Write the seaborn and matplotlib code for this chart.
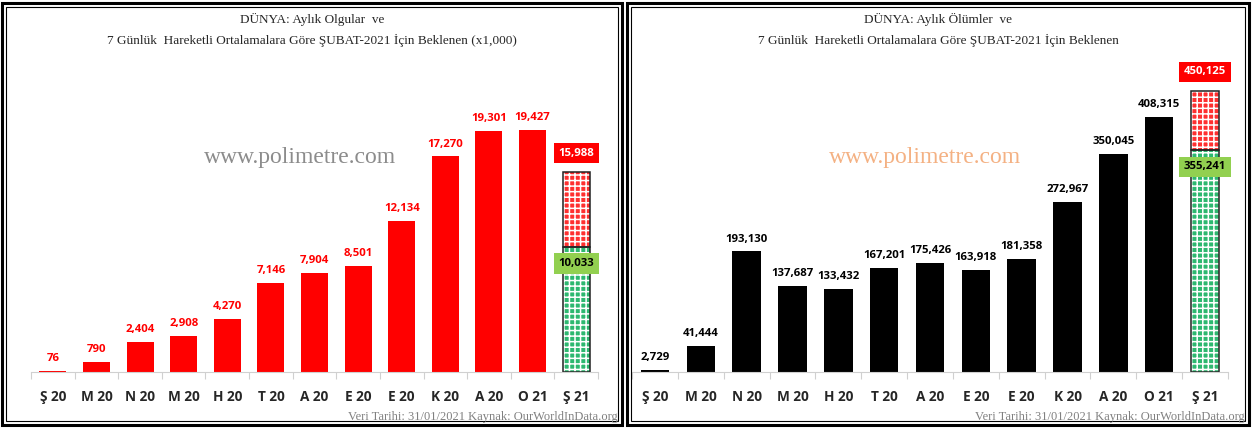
import numpy as np
import pandas as pd
import matplotlib
matplotlib.use("Agg")
import matplotlib.pyplot as plt
from matplotlib.patches import Rectangle
from matplotlib.ticker import FixedLocator
import seaborn as sns

sns.set_style("white")
plt.rcParams['font.family'] = ['DejaVu Sans']
plt.rcParams['hatch.linewidth'] = 1.1

# data
months = ["Ş 20", "M 20", "N 20", "M 20", "H 20", "T 20", "A 20",
          "E 20", "E 20", "K 20", "A 20", "O 21", "Ş 21"]
cases = [76, 790, 2404, 2908, 4270, 7146, 7904, 8501, 12134, 17270, 19301, 19427]
cases_feb_now = 10033
cases_feb_expected = 15988
deaths = [2729, 41444, 193130, 137687, 133432, 167201, 175426, 163918,
          181358, 272967, 350045, 408315]
deaths_feb_now = 355241
deaths_feb_expected = 450125

titles = ["DÜNYA: Aylık Olgular  ve\n7 Günlük  Hareketli Ortalamalara Göre ŞUBAT-2021 İçin Beklenen (x1,000)",
          "DÜNYA: Aylık Ölümler  ve\n7 Günlük  Hareketli Ortalamalara Göre ŞUBAT-2021 İçin Beklenen"]
source = "Veri Tarihi: 31/01/2021 Kaynak: OurWorldInData.org"

W, H = 1252, 428
fig = plt.figure(figsize=(W / 100, H / 100), dpi=100)


def fx(px): return px / W
def fy(py): return 1 - py / H


def frame(x0, x1):
    fig.add_artist(Rectangle((fx(x0), fy(H - 3)), fx(x1 - x0), (H - 6) / H,
                             transform=fig.transFigure, fill=False, lw=2.2, ec='black'))
    fig.add_artist(Rectangle((fx(x0 + 4), fy(H - 7)), fx(x1 - x0 - 8), (H - 14) / H,
                             transform=fig.transFigure, fill=False, lw=0.8, ec='black'))


def panel(ax_rect, vals, now, expected, ymax, bar_color, lab_color, title, wm_color, x0, x1):
    ax = fig.add_axes(ax_rect)
    df = pd.DataFrame({"pos": [str(i) for i in range(len(vals))], "val": vals})
    sns.barplot(data=df, x="pos", y="val", color=bar_color, saturation=1, width=0.62,
                ax=ax, linewidth=0, order=df["pos"].tolist() + ["12"])
    n = len(vals)
    # expected bar for february: green = so far, red = expected remainder
    ax.bar(n, now, width=0.62, color='#2DB870', edgecolor='white', hatch='+++', lw=0)
    ax.bar(n, expected - now, bottom=now, width=0.62, color='#FF3030', edgecolor='white',
           hatch='+++', lw=0)
    ax.bar(n, now, width=0.62, fill=False, edgecolor='#222222', lw=1.1)
    ax.bar(n, expected - now, bottom=now, width=0.62, fill=False, edgecolor='#222222', lw=1.1)

    for i, v in enumerate(vals):
        ax.annotate(f"{v:,}", (i, v), xytext=(0, 5), textcoords='offset points',
                    ha='center', va='bottom', fontsize=8.2, fontweight='bold', color=lab_color,
                    family='Open Sans')
    ax.annotate(f"{expected:,}", (n, expected), xytext=(0, 14), textcoords='offset points',
                ha='center', va='center', fontsize=8.2, fontweight='bold', color='white',
                family='Open Sans',
                bbox=dict(boxstyle='square,pad=0.4', fc='#FF0000', ec='none'))
    ax.annotate(f"{now:,}", (n, now), xytext=(0, -12), textcoords='offset points',
                ha='center', va='center', fontsize=8.2, fontweight='bold', color='black',
                family='Open Sans',
                bbox=dict(boxstyle='square,pad=0.4', fc='#92D050', ec='none'))

    ax.set_xlim(-0.5, n + 0.5)
    ax.set_ylim(0, ymax)
    ax.set_yticks([])
    ax.set_xlabel("")
    ax.set_ylabel("")
    ax.set_xticks(range(n + 1))
    ax.set_xticklabels(months, fontsize=9.8, fontweight='bold', family='Open Sans')
    ax.tick_params(axis='x', which='major', length=0, pad=13)
    ax.xaxis.set_minor_locator(FixedLocator(np.arange(-0.5, n + 1, 1)))
    ax.tick_params(axis='x', which='minor', length=5, color='#D0D0D0', width=0.8,
                   direction='out', bottom=True)
    for s in ['top', 'left', 'right']:
        ax.spines[s].set_visible(False)
    ax.spines['bottom'].set_color('#D0D0D0')
    ax.patch.set_alpha(0)

    cx = (x0 + x1) / 2
    fig.text(fx(cx), fy(30), title, ha='center', va='center', fontsize=9.5,
             family='Liberation Serif', linespacing=1.8)
    fig.text(fx(x0 + 298), fy(157), "www.polimetre.com", ha='center', va='center',
             fontsize=17, family='Liberation Serif', color=wm_color)
    fig.text(fx(x1 - 4), fy(417), source, ha='right', va='center', fontsize=9,
             family='Liberation Serif', color='#808080')
    frame(x0, x1)
    return ax


panel([fx(31), 1 - 372 / H, fx(567), 312 / H], cases, cases_feb_now, cases_feb_expected,
      25000, '#FF0000', '#FF0000', titles[0], '#8C8C8C', 2, 622)
panel([fx(632), 1 - 372 / H, fx(596), 312 / H], deaths, deaths_feb_now, deaths_feb_expected,
      500000, '#000000', '#000000', titles[1], '#F4B183', 627, 1249)

fig.savefig("out.png", dpi=100)
